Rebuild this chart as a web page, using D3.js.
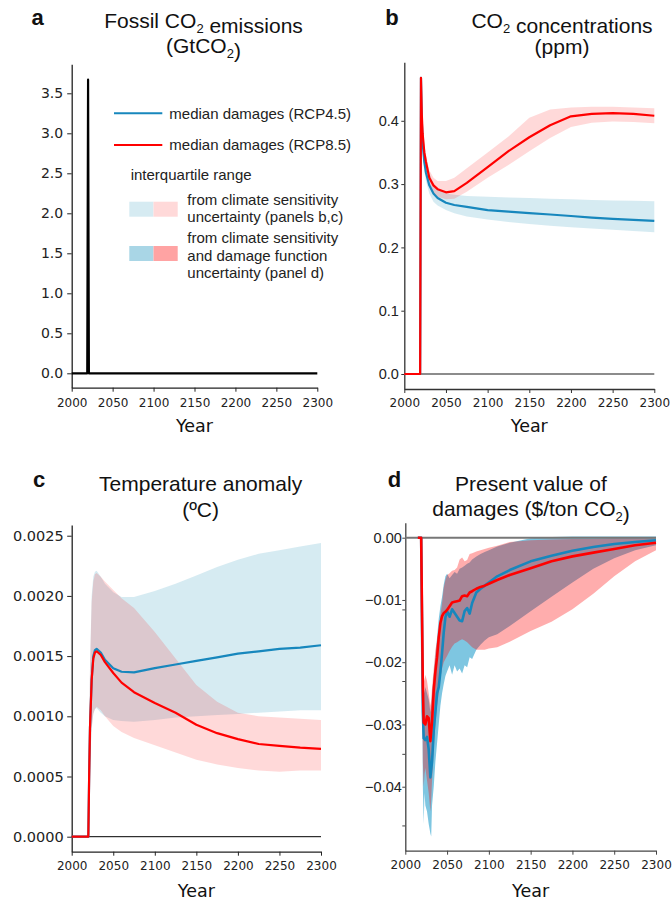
<!DOCTYPE html>
<html>
<head>
<meta charset="utf-8">
<script src="https://cdn.jsdelivr.net/npm/d3@7"></script>
<style>
  body { margin: 0; background: #fff; }
</style>
</head>
<body>
<script>
// ---- data ----
const xTicks = [2000, 2050, 2100, 2150, 2200, 2250, 2300];

// panel a: fossil CO2 emissions (GtCO2)
const aYears = [2000, 2019, 2020, 2021, 2300];
const aEmissions = [0, 0, 3.67, 0, 0];
const aTicks = [0, 0.5, 1, 1.5, 2, 2.5, 3, 3.5];

// panel b: CO2 concentrations (ppm)
const bYears = [2000, 2019, 2020, 2021, 2022, 2024, 2026, 2030, 2035, 2040, 2050, 2060, 2075, 2100, 2125, 2150, 2175, 2200, 2225, 2250, 2275, 2300];
const bRed = [0, 0, 0.468, 0.41, 0.38, 0.35, 0.335, 0.31, 0.298, 0.292, 0.287, 0.289, 0.302, 0.327, 0.352, 0.374, 0.393, 0.407, 0.411, 0.412, 0.411, 0.408];
const bBlue = [0, 0, 0.468, 0.4, 0.365, 0.335, 0.318, 0.298, 0.285, 0.278, 0.2706, 0.267, 0.264, 0.259, 0.2565, 0.254, 0.252, 0.2496, 0.247, 0.245, 0.2435, 0.242];
const bBandYears = [2020, 2021, 2022, 2024, 2026, 2030, 2035, 2040, 2050, 2060, 2075, 2100, 2125, 2150, 2175, 2200, 2225, 2250, 2275, 2300];
const bRedLo = [0.468, 0.4, 0.37, 0.34, 0.322, 0.298, 0.286, 0.28, 0.276, 0.277, 0.288, 0.31, 0.33, 0.352, 0.373, 0.39, 0.397, 0.399, 0.398, 0.396];
const bRedHi = [0.468, 0.42, 0.39, 0.362, 0.347, 0.322, 0.31, 0.305, 0.305, 0.31, 0.325, 0.35, 0.375, 0.405, 0.418, 0.421, 0.422, 0.422, 0.421, 0.42];
const bBlueLo = [0.468, 0.38, 0.35, 0.32, 0.305, 0.285, 0.272, 0.266, 0.259, 0.254, 0.249, 0.244, 0.24, 0.237, 0.234, 0.232, 0.23, 0.228, 0.226, 0.224];
const bBlueHi = [0.468, 0.43, 0.4, 0.365, 0.345, 0.318, 0.3, 0.292, 0.285, 0.283, 0.281, 0.28, 0.279, 0.278, 0.277, 0.276, 0.275, 0.274, 0.2735, 0.273];
const bTicks = [0, 0.1, 0.2, 0.3, 0.4];

// panel c: temperature anomaly (ºC)
const cYears = [2000, 2020, 2021, 2022, 2024, 2026, 2028, 2030, 2035, 2040, 2050, 2060, 2075, 2100, 2125, 2150, 2175, 2200, 2225, 2250, 2275, 2300];
const cRed = [0, 0, 0.0005, 0.0009, 0.0013, 0.00148, 0.00153, 0.00154, 0.00151, 0.00145, 0.00136, 0.00128, 0.0012, 0.00111, 0.00103, 0.00093, 0.00086, 0.00081, 0.00077, 0.000755, 0.00074, 0.00073];
const cBlue = [0, 0, 0.0005, 0.0009, 0.0013, 0.0015, 0.00155, 0.00156, 0.00153, 0.00147, 0.0014, 0.00137, 0.001365, 0.0014, 0.00143, 0.00146, 0.00149, 0.00152, 0.00154, 0.00156, 0.00157, 0.00159];
const cBandYears = [2020, 2021, 2022, 2024, 2026, 2028, 2030, 2035, 2040, 2050, 2060, 2075, 2100, 2125, 2150, 2175, 2200, 2225, 2250, 2275, 2300];
const cBlueHi = [0, 0.0008, 0.0014, 0.002, 0.00216, 0.0022, 0.00221, 0.00216, 0.0021, 0.00203, 0.00199, 0.00199, 0.00204, 0.0021, 0.00217, 0.00224, 0.0023, 0.00235, 0.00238, 0.00241, 0.00244];
const cBlueLo = [0, 0.0003, 0.0006, 0.0009, 0.00102, 0.00106, 0.00107, 0.00103, 0.001, 0.00097, 0.00096, 0.000955, 0.00097, 0.00099, 0.001, 0.00101, 0.00102, 0.00103, 0.00104, 0.00105, 0.00105];
const cRedHi = [0, 0.0008, 0.0014, 0.00195, 0.00212, 0.00218, 0.00219, 0.00216, 0.00212, 0.00205, 0.00198, 0.0019, 0.0017, 0.00148, 0.00126, 0.00112, 0.00103, 0.001, 0.00099, 0.00098, 0.00097];
const cRedLo = [0, 0.0003, 0.0006, 0.0009, 0.00102, 0.00106, 0.00108, 0.00105, 0.001, 0.00092, 0.00087, 0.00082, 0.00076, 0.0007, 0.00064, 0.0006, 0.00057, 0.00055, 0.00054, 0.00055, 0.00055];
const cTicks = [0, 0.0005, 0.001, 0.0015, 0.002, 0.0025];

// panel d: present value of damages ($/ton CO2)
const dYears = [2015, 2019, 2020, 2021, 2022, 2024, 2026, 2028, 2030, 2032, 2034, 2036, 2038, 2040, 2042, 2044, 2046, 2048, 2050, 2053, 2056, 2059, 2062, 2065, 2068, 2071, 2074, 2077, 2080, 2085, 2090, 2095, 2100, 2110, 2125, 2150, 2175, 2200, 2225, 2250, 2275, 2300];
const dRed = [0, 0, -0.012, -0.024, -0.0297, -0.03, -0.0287, -0.029, -0.0327, -0.0295, -0.0245, -0.0215, -0.0192, -0.016, -0.0137, -0.0126, -0.0121, -0.0119, -0.0116, -0.011, -0.0104, -0.0103, -0.0102, -0.0101, -0.0094, -0.0093, -0.0094, -0.0088, -0.0086, -0.0082, -0.0079, -0.0077, -0.0074, -0.0068, -0.006, -0.0049, -0.0038, -0.003, -0.0024, -0.0018, -0.0012, -0.0008];
const dBlue = [0, 0, -0.014, -0.028, -0.0322, -0.0325, -0.032, -0.034, -0.0385, -0.036, -0.031, -0.028, -0.025, -0.024, -0.0215, -0.0185, -0.0152, -0.0128, -0.0118, -0.0127, -0.0115, -0.0121, -0.0127, -0.0133, -0.0134, -0.0118, -0.0113, -0.0122, -0.0105, -0.0088, -0.0082, -0.0077, -0.0072, -0.0062, -0.0052, -0.0038, -0.0029, -0.0021, -0.0015, -0.001, -0.0007, -0.0004];
const dBandYears = [2020, 2021, 2022, 2023, 2024, 2026, 2028, 2030, 2031, 2032, 2034, 2036, 2038, 2040, 2042, 2044, 2046, 2048, 2050, 2053, 2056, 2059, 2062, 2065, 2068, 2071, 2074, 2077, 2080, 2085, 2090, 2095, 2100, 2110, 2125, 2150, 2175, 2200, 2225, 2250, 2275, 2300];
const dBlueLo = [-0.02, -0.04, -0.046, -0.041, -0.043, -0.044, -0.046, -0.0475, -0.048, -0.043, -0.04, -0.036, -0.033, -0.03, -0.027, -0.025, -0.0235, -0.0222, -0.0215, -0.0205, -0.022, -0.0205, -0.0215, -0.021, -0.0218, -0.0205, -0.0208, -0.0192, -0.0195, -0.018, -0.0172, -0.0165, -0.016, -0.0155, -0.0142, -0.0118, -0.0095, -0.0072, -0.005, -0.0033, -0.002, -0.0012];
const dBlueHi = [-0.018, -0.021, -0.024, -0.025, -0.024, -0.025, -0.026, -0.028, -0.027, -0.025, -0.022, -0.019, -0.016, -0.013, -0.011, -0.0095, -0.0075, -0.0062, -0.0058, -0.0065, -0.006, -0.0055, -0.0058, -0.005, -0.0048, -0.0045, -0.0042, -0.004, -0.0035, -0.003, -0.0026, -0.0023, -0.002, -0.0014, -0.0008, -0.0001, 0.0001, 0.0002, 0.0002, 0.0002, 0.0002, 0.0002];
const dRedLo = [-0.02, -0.036, -0.04, -0.038, -0.037, -0.039, -0.041, -0.044, -0.042, -0.039, -0.034, -0.03, -0.027, -0.025, -0.0225, -0.021, -0.02, -0.0195, -0.019, -0.0182, -0.0175, -0.017, -0.0168, -0.0165, -0.0163, -0.0165, -0.0168, -0.0172, -0.0176, -0.018, -0.018, -0.018, -0.0178, -0.0176, -0.0167, -0.015, -0.0135, -0.0115, -0.009, -0.0062, -0.0038, -0.002];
const dRedHi = [-0.016, -0.019, -0.022, -0.023, -0.022, -0.023, -0.025, -0.027, -0.026, -0.024, -0.021, -0.018, -0.0165, -0.015, -0.0125, -0.0105, -0.008, -0.0068, -0.006, -0.0057, -0.0053, -0.0052, -0.0048, -0.0035, -0.0032, -0.0038, -0.0036, -0.0026, -0.0025, -0.0022, -0.002, -0.0018, -0.0016, -0.0013, -0.0007, -0.0004, -0.0003, -0.0002, -0.0002, -0.0001, -0.0001, -0.0001];
const dTicks = [0, -0.01, -0.02, -0.03, -0.04];
const dMinorTicks = [-0.0116, -0.0231, -0.0348, -0.0463];

const legendLines = ["median damages (RCP4.5)", "median damages (RCP8.5)"];
const legendBands = [
  ["from climate sensitivity", "uncertainty (panels b,c)"],
  ["from climate sensitivity", "and damage function", "uncertainty (panel d)"],
];

// ---- styling ----
const titleFont = "'Liberation Sans', Arial, Helvetica, sans-serif";
const tickFont = "'DejaVu Sans', sans-serif";
const blue = "#1787bd";
const red = "#ff0000";
const lightBlue = "#add8e6";

const svg = d3.select("body").append("svg")
  .attr("width", 672)
  .attr("height", 902)
  .style("background", "#fff");

function makePanel(p) {
  const x = d3.scaleLinear().domain([2000, 2300]).range([p.left, p.right]);
  const y = d3.scaleLinear().domain(p.yDomain).range([p.bottom, p.top]);
  const g = svg.append("g");
  return { x, y, g, p };
}

function drawAxes(P, o) {
  const { x, y, g, p } = P;
  const gx = g.append("g")
    .attr("transform", `translate(0,${p.bottom})`)
    .call(d3.axisBottom(x).tickValues(xTicks).tickFormat(d3.format("d"))
      .tickSize(4).tickSizeOuter(0).tickPadding(o.xPad));
  gx.select(".domain").attr("stroke", o.spine).attr("stroke-width", 1.3);
  gx.selectAll(".tick line").attr("stroke", o.spine).attr("stroke-width", 1);
  gx.selectAll("text").attr("font-family", tickFont).attr("font-size", 12).attr("fill", "#222");

  const gy = g.append("g")
    .attr("transform", `translate(${p.left},0)`)
    .call(d3.axisLeft(y).tickValues(o.yTicks).tickFormat(o.fmt)
      .tickSize(o.tickLen).tickSizeOuter(0).tickPadding(o.yPad));
  gy.select(".domain").attr("stroke", o.spine).attr("stroke-width", 1.3);
  gy.selectAll(".tick line").attr("stroke", o.spine).attr("stroke-width", 1);
  gy.selectAll("text").attr("font-family", o.yFont).attr("font-size", o.ySize).attr("fill", "#222");

  g.append("text")
    .attr("x", (p.left + p.right) / 2)
    .attr("y", o.yearY)
    .attr("text-anchor", "middle")
    .attr("font-family", tickFont)
    .attr("font-size", 17.5)
    .attr("fill", "#111")
    .text("Year");
}

function title(cx, lines, letter, lx, ly) {
  lines.forEach((parts) => {
    const t = svg.append("text")
      .attr("x", cx)
      .attr("y", parts.y)
      .attr("text-anchor", "middle")
      .attr("font-family", titleFont)
      .attr("font-size", 21)
      .attr("fill", "#111");
    parts.segs.forEach((s) => {
      if (s.sub) {
        t.append("tspan").attr("font-size", 13).attr("dy", 5).text(s.text);
        t.append("tspan").attr("dy", -5).text("");
      } else {
        t.append("tspan").text(s.text);
      }
    });
  });
  svg.append("text")
    .attr("x", lx)
    .attr("y", ly)
    .attr("font-family", titleFont)
    .attr("font-weight", "bold")
    .attr("font-size", 22)
    .attr("fill", "#111")
    .text(letter);
}

function band(P, years, lo, hi, fill, opacity) {
  const area = d3.area()
    .x((d, i) => P.x(years[i]))
    .y0((d, i) => P.y(lo[i]))
    .y1((d, i) => P.y(hi[i]));
  P.g.append("path")
    .datum(years)
    .attr("d", area)
    .attr("fill", fill)
    .attr("fill-opacity", opacity);
}

function line(P, years, vals, color, width) {
  const ln = d3.line()
    .x((d, i) => P.x(years[i]))
    .y((d) => P.y(d));
  P.g.append("path")
    .datum(vals)
    .attr("d", ln)
    .attr("fill", "none")
    .attr("stroke", color)
    .attr("stroke-width", width)
    .attr("stroke-linejoin", "round");
}

function zeroLine(P, color, width) {
  P.g.append("line")
    .attr("x1", P.x(2000)).attr("x2", P.x(2300))
    .attr("y1", P.y(0)).attr("y2", P.y(0))
    .attr("stroke", color)
    .attr("stroke-width", width);
}

// ---- panel a ----
const A = makePanel({ left: 71.7, right: 317.3, top: 64.3, bottom: 387.7, yDomain: [-0.18, 3.8625] });
drawAxes(A, { xPad: 6.5, yTicks: aTicks, fmt: d3.format(".1f"), tickLen: 4.5, yPad: 4,
  yFont: tickFont, ySize: 14, spine: "#222", yearY: 432 });
line(A, aYears, aEmissions, "#000", 2.2);
title(203.5, [
  { y: 27.7, segs: [{ text: "Fossil CO" }, { text: "2", sub: true }, { text: " emissions" }] },
  { y: 53, segs: [{ text: "(GtCO" }, { text: "2", sub: true }, { text: ")" }] },
], "a", 31.5, 25);

// legend (lives in panel a)
const leg = svg.append("g").attr("font-family", titleFont).attr("font-size", 15).attr("fill", "#222");
[blue, red].forEach((c, i) => {
  leg.append("line")
    .attr("x1", 114).attr("x2", 162.3)
    .attr("y1", 113.3 + i * 31.7).attr("y2", 113.3 + i * 31.7)
    .attr("stroke", c).attr("stroke-width", 2);
  leg.append("text").attr("x", 169.3).attr("y", 118.7 + i * 31.7).text(legendLines[i]);
});
leg.append("text").attr("x", 130.7).attr("y", 179.5).text("interquartile range");
const swatchY = [201.7, 246];
const swatchColors = [["#d6ebf2", "#ffd9d9"], ["#a9d6e6", "#ffa3a3"]];
const textTop = [205, 243.3];
legendBands.forEach((lines, i) => {
  leg.append("rect").attr("x", 129.3).attr("y", swatchY[i]).attr("width", 24.2).attr("height", 15)
    .attr("fill", swatchColors[i][0]);
  leg.append("rect").attr("x", 153.5).attr("y", swatchY[i]).attr("width", 24.2).attr("height", 15)
    .attr("fill", swatchColors[i][1]);
  lines.forEach((t, j) => {
    leg.append("text").attr("x", 187.3).attr("y", textTop[i] + j * 17.3).text(t);
  });
});

// ---- panel b ----
const B = makePanel({ left: 404.3, right: 654.3, top: 62.3, bottom: 389, yDomain: [-0.0237, 0.4924] });
drawAxes(B, { xPad: 5.5, yTicks: bTicks, fmt: d3.format(".1f"), tickLen: 3, yPad: 2.5,
  yFont: titleFont, ySize: 14.5, spine: "#333", yearY: 432 });
zeroLine(B, "#666", 1.5);
band(B, bBandYears, bBlueLo, bBlueHi, lightBlue, 0.5);
band(B, bBandYears, bRedLo, bRedHi, red, 0.15);
line(B, bYears, bBlue, blue, 2.2);
line(B, bYears, bRed, red, 2.2);
title(562, [
  { y: 28.3, segs: [{ text: "CO" }, { text: "2", sub: true }, { text: " concentrations" }] },
  { y: 54, segs: [{ text: "(ppm)" }] },
], "b", 385.3, 25);

// ---- panel c ----
const C = makePanel({ left: 71.7, right: 321, top: 525, bottom: 851.7, yDomain: [-0.0001246, 0.002589] });
drawAxes(C, { xPad: 6, yTicks: cTicks, fmt: d3.format(".4f"), tickLen: 4.5, yPad: 3.5,
  yFont: tickFont, ySize: 14.5, spine: "#222", yearY: 897 });
zeroLine(C, "#000", 1);
band(C, cBandYears, cBlueLo, cBlueHi, lightBlue, 0.5);
band(C, cBandYears, cRedLo, cRedHi, red, 0.15);
line(C, cYears, cBlue, blue, 2.2);
line(C, cYears, cRed, red, 2.2);
title(200.6, [
  { y: 491, segs: [{ text: "Temperature anomaly" }] },
  { y: 517.3, segs: [{ text: "(ºC)" }] },
], "c", 33, 486.7);

// ---- panel d ----
const D = makePanel({ left: 405.3, right: 656, top: 522.7, bottom: 850.7, yDomain: [-0.05028, 0.00241] });
drawAxes(D, { xPad: 5.5, yTicks: dTicks, fmt: (v) => (v === 0 ? "0.00" : "\u2212" + d3.format(".2f")(-v)),
  tickLen: 3, yPad: 0.5, yFont: titleFont, ySize: 14.5, spine: "#444", yearY: 897 });
D.g.append("g")
  .attr("transform", `translate(${D.p.left},0)`)
  .selectAll("line")
  .data(dMinorTicks)
  .join("line")
  .attr("x1", -3).attr("x2", 0)
  .attr("y1", (d) => D.y(d)).attr("y2", (d) => D.y(d))
  .attr("stroke", "#444");
band(D, dBandYears, dBlueLo, dBlueHi, "#7ec6e1", 1);
band(D, dBandYears, dRedLo, dRedHi, red, 0.32);
zeroLine(D, "#777", 2);
line(D, dYears, dBlue, blue, 2.6);
line(D, dYears, dRed, red, 2.6);
title(531, [
  { y: 490.7, segs: [{ text: "Present value of" }] },
  { y: 516, segs: [{ text: "damages ($/ton CO" }, { text: "2", sub: true }, { text: ")" }] },
], "d", 387.7, 486.7);
</script>
</body>
</html>
